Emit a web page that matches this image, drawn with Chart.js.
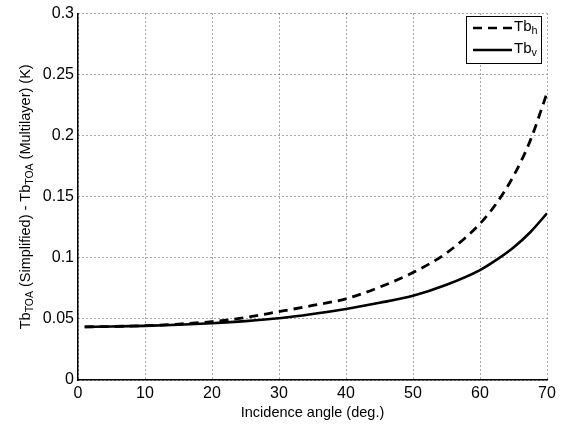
<!DOCTYPE html>
<html>
<head>
<meta charset="utf-8">
<script src="https://cdn.jsdelivr.net/npm/chart.js@4.4.1/dist/chart.umd.min.js"></script>
<style>
  html, body { margin: 0; padding: 0; background: #fff; }
  #wrap { width: 573px; height: 430px; }
</style>
</head>
<body>
<div id="wrap"><canvas id="chart" width="573" height="430"></canvas></div>
<script>
// Incidence angles (deg.)
const angles = [1, 5, 10, 15, 20, 25, 30, 35, 40, 45, 50, 55, 60, 62.5, 65, 67.5, 70];
// Tb_TOA(simplified) - Tb_TOA(multilayer), horizontal pol.
const tbH = [0.0435, 0.0438, 0.0445, 0.0458, 0.0478, 0.0512, 0.0560, 0.0610, 0.0665, 0.0760, 0.0880, 0.1040, 0.1280, 0.1450, 0.1670, 0.1960, 0.2350];
// vertical pol.
const tbV = [0.0435, 0.0438, 0.0443, 0.0452, 0.0465, 0.0482, 0.0505, 0.0540, 0.0582, 0.0632, 0.0690, 0.0780, 0.0900, 0.0985, 0.1085, 0.1210, 0.1365];
const xTicks = [0, 10, 20, 30, 40, 50, 60, 70];
const yTicks = [0, 0.05, 0.1, 0.15, 0.2, 0.25, 0.3];

const FONT = 'Liberation Sans, Arial, Helvetica, sans-serif';

function pts(ys) {
    return angles.map((a, i) => ({ x: a, y: ys[i] }));
}

// draw text with subscript parts: [[text, isSub], ...]
function drawRich(ctx, parts, x, y, size) {
    let cx = x;
    parts.forEach(p => {
        if (p[1]) {
            ctx.font = (size * 0.72) + 'px ' + FONT;
            ctx.fillText(p[0], cx, y + size * 0.3);
        } else {
            ctx.font = size + 'px ' + FONT;
            ctx.fillText(p[0], cx, y);
        }
        cx += ctx.measureText(p[0]).width;
    });
    return cx - x;
}
function richWidth(ctx, parts, size) {
    let w = 0;
    parts.forEach(p => {
        ctx.font = (p[1] ? size * 0.72 : size) + 'px ' + FONT;
        w += ctx.measureText(p[0]).width;
    });
    return w;
}

const extras = {
    id: 'extras',
    afterDraw(chart) {
        const ctx = chart.ctx;
        const area = chart.chartArea;
        ctx.save();
        ctx.fillStyle = '#000';
        ctx.textBaseline = 'middle';

        // y axis title
        const title = [['Tb', 0], ['TOA', 1], [' (Simplified) - Tb', 0], ['TOA', 1], [' (Multilayer) (K)', 0]];
        const tw = richWidth(ctx, title, 14.5);
        ctx.translate(26, (area.top + area.bottom) / 2);
        ctx.rotate(-Math.PI / 2);
        drawRich(ctx, title, -tw / 2, 0, 14.5);
        ctx.setTransform(1, 0, 0, 1, 0, 0);

        // legend
        const bx = 466, by = 16, bw = 75, bh = 47;
        ctx.fillStyle = '#fff';
        ctx.fillRect(bx, by, bw, bh);
        ctx.strokeStyle = '#000';
        ctx.lineWidth = 1;
        ctx.strokeRect(bx + 0.5, by + 0.5, bw, bh);
        ctx.lineWidth = 2.5;
        ctx.setLineDash([9, 6]);
        ctx.beginPath(); ctx.moveTo(473, 28); ctx.lineTo(512, 28); ctx.stroke();
        ctx.setLineDash([]);
        ctx.beginPath(); ctx.moveTo(473, 50); ctx.lineTo(512, 50); ctx.stroke();
        ctx.fillStyle = '#000';
        drawRich(ctx, [['Tb', 0], ['h', 1]], 514, 27, 15);
        drawRich(ctx, [['Tb', 0], ['v', 1]], 514, 49, 15);
        ctx.restore();
    }
};

new Chart(document.getElementById('chart'), {
    type: 'line',
    data: {
        datasets: [
            {
                label: 'Tbh',
                data: pts(tbH),
                borderColor: '#000',
                borderWidth: 2.8,
                borderDash: [9, 6],
                pointRadius: 0,
                cubicInterpolationMode: 'monotone',
                fill: false
            },
            {
                label: 'Tbv',
                data: pts(tbV),
                borderColor: '#000',
                borderWidth: 2.6,
                pointRadius: 0,
                cubicInterpolationMode: 'monotone',
                fill: false
            }
        ]
    },
    options: {
        responsive: false,
        animation: false,
        layout: { padding: { top: 10, right: 26, left: 0, bottom: 8 } },
        plugins: { legend: { display: false }, tooltip: { enabled: false } },
        scales: {
            x: {
                type: 'linear',
                min: 0,
                max: 70,
                afterBuildTicks: s => { s.ticks = xTicks.map(v => ({ value: v })); },
                afterFit: s => { s.height = 42; },
                ticks: { color: '#000', font: { family: FONT, size: 16 }, padding: 4, maxRotation: 0 },
                grid: { color: '#555', lineWidth: 1, drawTicks: false },
                border: { display: true, color: '#000', width: 1.5, dash: [1, 3] },
                title: {
                    display: true,
                    text: 'Incidence angle (deg.)',
                    color: '#000',
                    font: { family: FONT, size: 14.5 },
                    padding: { top: 4, bottom: 0 }
                }
            },
            y: {
                min: 0,
                max: 0.3,
                afterBuildTicks: s => { s.ticks = yTicks.map(v => ({ value: v })); },
                afterFit: s => { s.width = 78; },
                ticks: {
                    color: '#000',
                    font: { family: FONT, size: 16 },
                    padding: 4,
                    callback: v => String(+v.toFixed(2))
                },
                grid: { color: '#555', lineWidth: 1, drawTicks: false },
                border: { display: true, color: '#000', width: 1.5, dash: [1, 3] }
            }
        }
    },
    plugins: [extras]
});
</script>
</body>
</html>
